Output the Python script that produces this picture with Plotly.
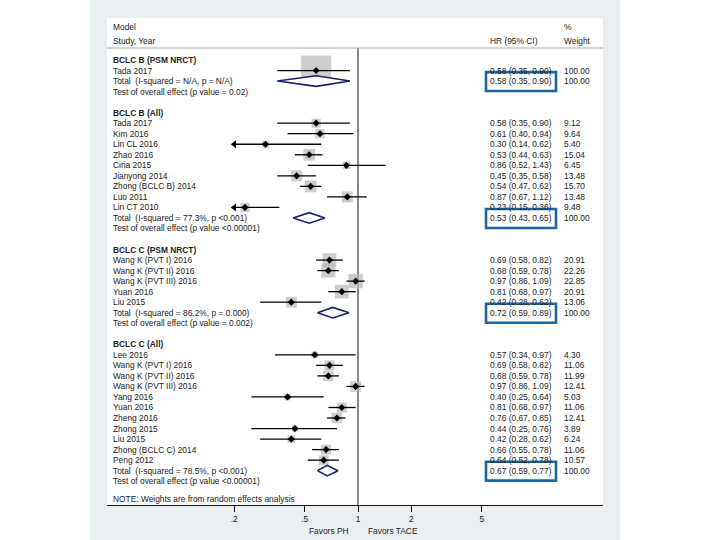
import plotly.graph_objects as go
import math

# ---------------- data ----------------
group_titles = ["BCLC B (PSM NRCT)", "BCLC B (All)", "BCLC C (PSM NRCT)", "BCLC C (All)"]

g1_studies = ["Tada 2017"]
g1_hr = [0.58]
g1_lo = [0.35]
g1_hi = [0.90]
g1_w = [100.00]

g2_studies = ["Tada 2017", "Kim 2016", "Lin CL 2016", "Zhao 2016", "Ciria 2015",
              "Jianyong 2014", "Zhong (BCLC B) 2014", "Luo 2011", "Lin CT 2010"]
g2_hr = [0.58, 0.61, 0.30, 0.53, 0.86, 0.45, 0.54, 0.87, 0.23]
g2_lo = [0.35, 0.40, 0.14, 0.44, 0.52, 0.35, 0.47, 0.67, 0.15]
g2_hi = [0.90, 0.94, 0.62, 0.63, 1.43, 0.58, 0.62, 1.12, 0.36]
g2_w = [9.12, 9.64, 5.40, 15.04, 6.45, 13.48, 15.70, 13.48, 9.48]

g3_studies = ["Wang K (PVT I) 2016", "Wang K (PVT II) 2016", "Wang K (PVT III) 2016",
              "Yuan 2016", "Liu 2015"]
g3_hr = [0.69, 0.68, 0.97, 0.81, 0.42]
g3_lo = [0.58, 0.59, 0.86, 0.68, 0.28]
g3_hi = [0.82, 0.78, 1.09, 0.97, 0.62]
g3_w = [20.91, 22.26, 22.85, 20.91, 13.06]

g4_studies = ["Lee 2016", "Wang K (PVT I) 2016", "Wang K (PVT II) 2016", "Wang K (PVT III) 2016",
              "Yang 2016", "Yuan 2016", "Zheng 2016", "Zhong 2015", "Liu 2015",
              "Zhong (BCLC C) 2014", "Peng 2012"]
g4_hr = [0.57, 0.69, 0.68, 0.97, 0.40, 0.81, 0.76, 0.44, 0.42, 0.66, 0.64]
g4_lo = [0.34, 0.58, 0.59, 0.86, 0.25, 0.68, 0.67, 0.25, 0.28, 0.55, 0.52]
g4_hi = [0.97, 0.82, 0.78, 1.09, 0.64, 0.97, 0.85, 0.76, 0.62, 0.78, 0.78]
g4_w = [4.30, 11.06, 11.99, 12.41, 5.03, 11.06, 12.41, 3.89, 6.24, 11.06, 10.57]

total_hr = [0.58, 0.53, 0.72, 0.67]
total_lo = [0.35, 0.43, 0.59, 0.59]
total_hi = [0.90, 0.65, 0.89, 0.77]
total_labels = ["Total  (I-squared = N/A, p = N/A)",
                "Total  (I-squared = 77.3%, p <0.001)",
                "Total  (I-squared = 86.2%, p = 0.000)",
                "Total  (I-squared = 78.5%, p <0.001)"]
test_labels = ["Test of overall effect (p value = 0.02)",
               "Test of overall effect (p value <0.00001)",
               "Test of overall effect (p value = 0.002)",
               "Test of overall effect (p value <0.00001)"]

tick_vals = [0.2, 0.5, 1, 2, 5]
tick_text = [".2", ".5", "1", "2", "5"]
x_min_display = 0.2

groups = [
    (g1_studies, g1_hr, g1_lo, g1_hi, g1_w),
    (g2_studies, g2_hr, g2_lo, g2_hi, g2_w),
    (g3_studies, g3_hr, g3_lo, g3_hi, g3_w),
    (g4_studies, g4_hr, g4_lo, g4_hi, g4_w),
]

# ---------------- layout helpers ----------------
W, H = 720, 540
L, R, T, B = 107, 603, 18, 505           # plot area in pixels
ROW0, ROWH = 60, 10.53                   # pixel y of row 0 and row height
PX_ONE, PX_DEC = 358, 177                # pixel x of HR=1, pixels per decade


def py2row(py):
    return (py - ROW0) / ROWH


def px2paper(px):
    return (px - L) / (R - L)


def pyout2paper(py):
    return (B - py) / (B - T)


x_range = [(L - PX_ONE) / PX_DEC, (R - PX_ONE) / PX_DEC]
y_range = [py2row(B), py2row(T)]

FONT = "Liberation Sans, Arial, sans-serif"
FS = 8.4
TXT = "#222222"

annotations = []


def add_text(px, row, text, size=FS, bold=False):
    annotations.append(dict(
        x=px2paper(px), xref="paper", y=row, yref="y",
        text=("<b>%s</b>" % text) if bold else text,
        showarrow=False, xanchor="left", yanchor="middle",
        font=dict(family=FONT, size=size, color=TXT)))


def fmt(h, l, u):
    return "%.2f (%.2f, %.2f)" % (h, l, u)


# header
add_text(111, py2row(27), "Model")
add_text(111, py2row(41), "Study, Year")
add_text(488, py2row(41), "HR (95% CI)")
add_text(562, py2row(27), "%")
add_text(562, py2row(41), "Weight")

sq_x, sq_y, sq_s = [], [], []
ln_x, ln_y = [], []
pt_x, pt_y = [], []
ar_x, ar_y = [], []
diamonds = []
boxes = []

row = 0
for gi, (st, hr, lo, hi, w) in enumerate(groups):
    add_text(111, row, group_titles[gi], bold=True)
    for j in range(len(st)):
        r = row + 1 + j
        add_text(111, r, st[j])
        add_text(488, r, fmt(hr[j], lo[j], hi[j]))
        add_text(562, r, "%.2f" % w[j])
        sq_x.append(hr[j]); sq_y.append(r); sq_s.append(30 * math.sqrt(w[j] / 100.0))
        lo_d = max(lo[j], x_min_display)
        ln_x += [lo_d, hi[j], None]; ln_y += [r, r, None]
        pt_x.append(hr[j]); pt_y.append(r)
        if lo[j] < x_min_display:
            ar_x.append(x_min_display); ar_y.append(r)
    rt = row + 1 + len(st)
    add_text(111, rt, total_labels[gi])
    add_text(488, rt, fmt(total_hr[gi], total_lo[gi], total_hi[gi]))
    add_text(562, rt, "100.00")
    add_text(111, rt + 1, test_labels[gi])
    diamonds.append((total_lo[gi], total_hr[gi], total_hi[gi], rt))
    boxes.append(rt)
    row = rt + 3

add_text(111, py2row(499), "NOTE: Weights are from random effects analysis")

fig = go.Figure()

# reference line at HR = 1
fig.add_trace(go.Scatter(x=[1, 1], y=[py2row(48), y_range[0]], mode="lines",
                         line=dict(color="#111111", width=1), hoverinfo="skip", showlegend=False))

# weight squares
fig.add_trace(go.Scatter(x=sq_x, y=sq_y, mode="markers",
                         marker=dict(symbol="square", size=sq_s, color="#b8b8b8", line=dict(width=0)),
                         hoverinfo="skip", showlegend=False))
# CI lines
fig.add_trace(go.Scatter(x=ln_x, y=ln_y, mode="lines",
                         line=dict(color="#000000", width=1.3), hoverinfo="skip", showlegend=False))
# arrows for truncated CIs
fig.add_trace(go.Scatter(x=ar_x, y=ar_y, mode="markers",
                         marker=dict(symbol="triangle-left", size=7, color="#000000"),
                         hoverinfo="skip", showlegend=False))
# point estimates
fig.add_trace(go.Scatter(x=pt_x, y=pt_y, mode="markers",
                         marker=dict(symbol="diamond", size=5.5, color="#000000"),
                         hoverinfo="skip", showlegend=False))
# pooled diamonds
DH = 0.5
for (l, h, u, r) in diamonds:
    fig.add_trace(go.Scatter(x=[l, h, u, h, l], y=[r, r - DH, r, r + DH, r],
                             mode="lines", fill="toself", fillcolor="#ffffff",
                             line=dict(color="#1a1f6e", width=1.6),
                             hoverinfo="skip", showlegend=False))

shapes = []
# white outer margins (outside the grey graph region)
shapes.append(dict(type="rect", xref="paper", yref="paper",
                   x0=px2paper(-5), x1=px2paper(90), y0=pyout2paper(545), y1=pyout2paper(-5),
                   fillcolor="#ffffff", line=dict(width=0), layer="above"))
shapes.append(dict(type="rect", xref="paper", yref="paper",
                   x0=px2paper(620), x1=px2paper(725), y0=pyout2paper(545), y1=pyout2paper(-5),
                   fillcolor="#ffffff", line=dict(width=0), layer="above"))
# header separator
shapes.append(dict(type="line", xref="paper", yref="y", x0=0, x1=1,
                   y0=py2row(48), y1=py2row(48), line=dict(color="#a8a8a8", width=1)))
# highlight boxes around pooled HR text
for r in boxes:
    shapes.append(dict(type="rect", xref="paper", yref="y",
                       x0=px2paper(486), x1=px2paper(556), y0=r - 0.85, y1=r + 0.95,
                       line=dict(color="#1d64a3", width=2.6), fillcolor="rgba(0,0,0,0)",
                       layer="above"))

annotations.append(dict(x=px2paper(351), xref="paper", y=pyout2paper(531), yref="paper",
                        text="Favors PH", showarrow=False, xanchor="right", yanchor="middle",
                        font=dict(family=FONT, size=FS, color=TXT)))
annotations.append(dict(x=px2paper(366), xref="paper", y=pyout2paper(531), yref="paper",
                        text="Favors TACE", showarrow=False, xanchor="left", yanchor="middle",
                        font=dict(family=FONT, size=FS, color=TXT)))

fig.update_layout(
    width=W, height=H,
    margin=dict(l=L, r=W - R, t=T, b=H - B, pad=0),
    paper_bgcolor="#e9eef1",
    plot_bgcolor="#ffffff",
    showlegend=False,
    shapes=shapes,
    annotations=annotations,
    xaxis=dict(type="log", range=x_range, tickvals=tick_vals, ticktext=tick_text,
               showgrid=False, zeroline=False, showline=True, linecolor="#111111", linewidth=1,
               ticks="outside", ticklen=6, tickcolor="#111111", tickwidth=1,
               tickfont=dict(family=FONT, size=FS, color=TXT), fixedrange=True),
    yaxis=dict(range=y_range, visible=False, showgrid=False, zeroline=False, fixedrange=True),
)

fig.write_html(
    "out.html",
    config={"displayModeBar": False, "staticPlot": True},
    post_script="document.documentElement.style.margin='0';document.body.style.margin='0';"
                "document.body.style.padding='0';document.body.style.overflow='hidden';",
)
